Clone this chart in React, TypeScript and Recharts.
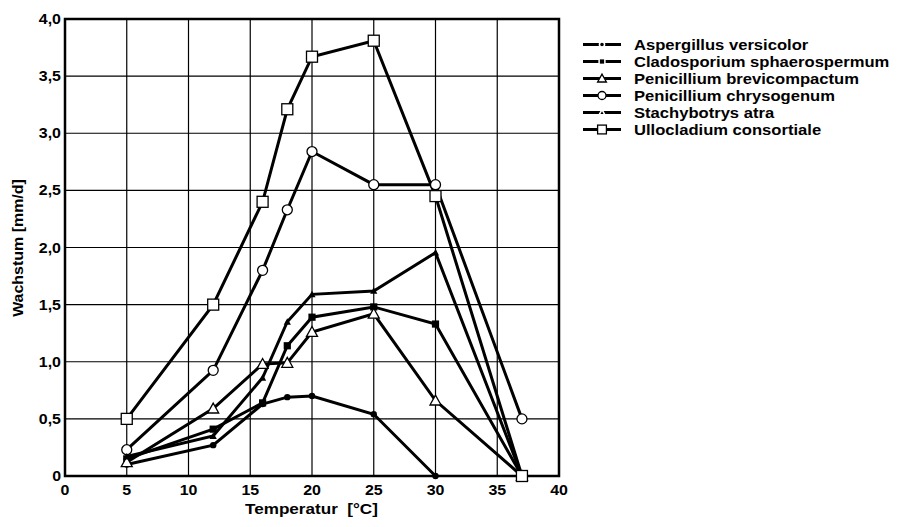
import React from 'react';
import { LineChart, Line, XAxis, YAxis, CartesianGrid, ReferenceArea } from 'recharts';

const temps = [5, 12, 16, 18, 20, 25, 30, 37];
const aspergillus = [0.1, 0.27, 0.63, 0.69, 0.7, 0.54, 0.0, null];
const cladosporium = [0.15, 0.41, 0.64, 1.14, 1.39, 1.48, 1.33, 0];
const brevicompactum = [0.12, 0.59, 0.98, 0.99, 1.26, 1.42, 0.66, 0];
const chrysogenum = [0.23, 0.925, 1.8, 2.33, 2.84, 2.55, 2.55, 0.5];
const stachybotrys = [0.17, 0.35, 0.86, 1.35, 1.59, 1.62, 1.955, 0];
const ullocladium = [0.5, 1.5, 2.4, 3.21, 3.67, 3.81, 2.45, 0];

const xTicks = [0, 5, 10, 15, 20, 25, 30, 35, 40];
const yTicks = [0, 0.5, 1, 1.5, 2, 2.5, 3, 3.5, 4];

const series = [
  { key: 'asp', name: 'Aspergillus versicolor', values: aspergillus, marker: 'dot' },
  { key: 'cla', name: 'Cladosporium sphaerospermum', values: cladosporium, marker: 'fsquare' },
  { key: 'bre', name: 'Penicillium brevicompactum', values: brevicompactum, marker: 'otri' },
  { key: 'chr', name: 'Penicillium chrysogenum', values: chrysogenum, marker: 'ocircle' },
  { key: 'sta', name: 'Stachybotrys atra', values: stachybotrys, marker: 'ftri' },
  { key: 'ull', name: 'Ullocladium consortiale', values: ullocladium, marker: 'osquare' },
];

const data = temps.map((t, i) => {
  const row: any = { t };
  series.forEach(s => { row[s.key] = s.values[i]; });
  return row;
});

const FONT = '"Liberation Sans", Arial, sans-serif';
const STRETCH = 1.14;

// halo = white outline, used in the legend so small filled marks stand out from the line
const marker = (kind: string, cx: number, cy: number, scale = 1, halo = false) => {
  const k = scale;
  const hs = halo ? { stroke: '#fff', strokeWidth: 1.5 } : {};
  switch (kind) {
    case 'dot':
      return <circle cx={cx} cy={cy} r={3.2 * k} fill="#000" {...hs} />;
    case 'fsquare':
      return <rect x={cx - 3.6 * k} y={cy - 3.6 * k} width={7.2 * k} height={7.2 * k} fill="#000" {...hs} />;
    case 'otri': {
      const s = 5.5 * k;
      return <polygon points={`${cx},${cy - s} ${cx - s},${cy + s * 0.8} ${cx + s},${cy + s * 0.8}`} fill="#fff" stroke="#000" strokeWidth={1.3} />;
    }
    case 'ocircle':
      return <circle cx={cx} cy={cy} r={5 * k} fill="#fff" stroke="#000" strokeWidth={1.3} />;
    case 'ftri': {
      const s = 3.6 * k;
      return <polygon points={`${cx},${cy - s} ${cx - s},${cy + s * 0.8} ${cx + s},${cy + s * 0.8}`} fill="#000" {...hs} />;
    }
    default:
      return <rect x={cx - 5.5 * k} y={cy - 5.5 * k} width={11 * k} height={11 * k} fill="#fff" stroke="#000" strokeWidth={1.3} />;
  }
};

const makeDot = (kind: string) => (props: any) => {
  const { cx, cy, index } = props;
  if (cx == null || cy == null || props.value == null) return <g key={index} />;
  return <g key={index}>{marker(kind, cx, cy)}</g>;
};

const fmtY = (v: number) => (v === 0 ? '0' : v.toFixed(1).replace('.', ','));

const XTick = (props: any) => {
  const { x, y, payload } = props;
  return (
    <g transform={`translate(${x},${y})`}>
      <text transform={`scale(${STRETCH},1)`} textAnchor="middle" dy="0.71em" fontFamily={FONT} fontWeight="bold" fontSize={14} fill="#000">
        {payload.value}
      </text>
    </g>
  );
};

const YTick = (props: any) => {
  const { x, y, payload } = props;
  return (
    <g transform={`translate(${x},${y})`}>
      <text transform={`scale(${STRETCH},1)`} textAnchor="end" dy="0.36em" fontFamily={FONT} fontWeight="bold" fontSize={14} fill="#000">
        {fmtY(payload.value)}
      </text>
    </g>
  );
};

const App: React.FC = () => {
  return (
    <div style={{ position: 'absolute', left: 0, top: 0, width: 905, height: 527, background: '#fff', fontFamily: FONT }}>
      <LineChart width={905} height={527} data={data} margin={{ top: 19, right: 346, bottom: 0, left: 0 }}>
        <CartesianGrid stroke="#000" strokeWidth={1.2} />
        <XAxis
          dataKey="t"
          type="number"
          domain={[0, 40]}
          ticks={xTicks}
          height={51}
          tickSize={0}
          tickMargin={9}
          axisLine={false}
          tickLine={false}
          tick={<XTick />}
          interval={0}
        />
        <YAxis
          type="number"
          domain={[0, 4]}
          ticks={yTicks}
          width={65}
          tickSize={0}
          tickMargin={4}
          axisLine={false}
          tickLine={false}
          tick={<YTick />}
          interval={0}
        />
        <ReferenceArea x1={0} x2={40} y1={0} y2={4} fill="none" stroke="#000" strokeWidth={2.5} />
        {series.map(s => (
          <Line
            key={s.key}
            dataKey={s.key}
            name={s.name}
            stroke="#000"
            strokeWidth={3}
            dot={makeDot(s.marker)}
            activeDot={false}
            isAnimationActive={false}
          />
        ))}
      </LineChart>

      <div style={{ position: 'absolute', left: 245, top: 500, fontSize: 15, fontWeight: 'bold', transform: `scaleX(${STRETCH})`, transformOrigin: 'left', whiteSpace: 'pre' }}>
        {'Temperatur  [°C]'}
      </div>
      <div style={{ position: 'absolute', left: 18, top: 248, width: 0, height: 0 }}>
        <div style={{ position: 'absolute', left: 0, top: 0, transform: `translate(-50%, -50%) rotate(-90deg) scaleX(${STRETCH})`, fontSize: 14, fontWeight: 'bold', whiteSpace: 'nowrap' }}>
          Wachstum [mm/d]
        </div>
      </div>

      <div style={{ position: 'absolute', left: 583, top: 36 }}>
        {series.map(s => (
          <div key={s.key} style={{ display: 'flex', alignItems: 'center', height: 17 }}>
            <svg width={51} height={17} style={{ flex: 'none' }}>
              <line x1={0} x2={38} y1={8.5} y2={8.5} stroke="#000" strokeWidth={3} />
              {marker(s.marker, 19, 8.5, 0.8, true)}
            </svg>
            <span style={{ fontSize: 15, fontWeight: 'bold', lineHeight: '17px', transform: `scaleX(${STRETCH * 0.97})`, transformOrigin: 'left', whiteSpace: 'nowrap' }}>
              {s.name}
            </span>
          </div>
        ))}
      </div>
    </div>
  );
};

export default App;
